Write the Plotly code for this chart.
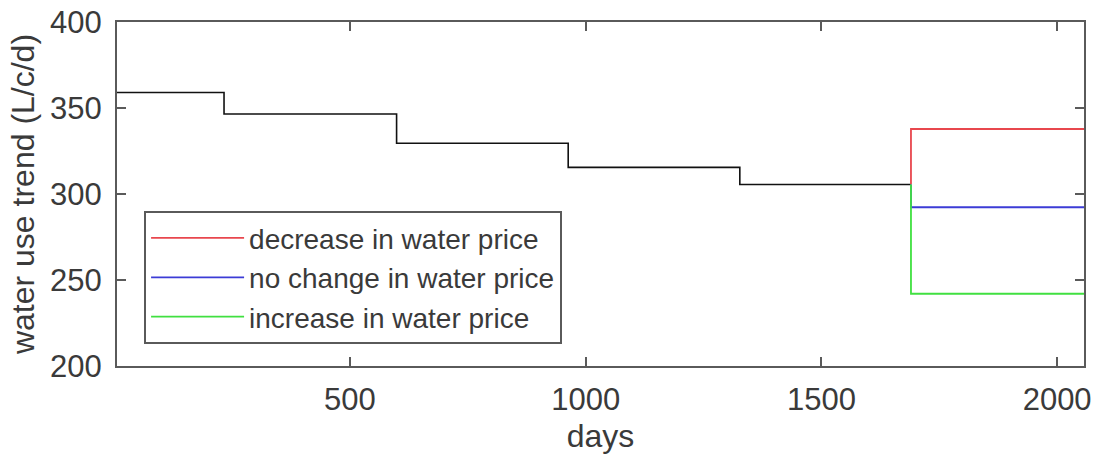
import plotly.graph_objects as go

# Data
base_days = [1, 233, 599, 963, 1327, 1690]
base_use = [359, 346.5, 329.5, 315.5, 305.5, 305.5]

scenario_days = [1690, 2057]
scenario_names = ["decrease in water price", "no change in water price", "increase in water price"]
scenario_use = [[305.5, 337.8], [305.5, 292.3], [305.5, 242.0]]
scenario_colors = ["#e8474e", "#3c3cd6", "#40e040"]

x_ticks = [500, 1000, 1500, 2000]
y_ticks = [200, 250, 300, 350, 400]

TXT = "#3a3a3a"
AX = "#5a5a5a"
FONT = "Liberation Sans, Arial, sans-serif"

fig = go.Figure()
fig.add_trace(go.Scatter(x=base_days, y=base_use, mode="lines", line=dict(color="#111111", width=1.6, shape="hv"),
                         showlegend=False))
for name, ys, col in zip(scenario_names, scenario_use, scenario_colors):
    fig.add_trace(go.Scatter(x=scenario_days, y=ys, mode="lines", name=name,
                             line=dict(color=col, width=1.8, shape="vh")))

fig.update_layout(
    width=1094, height=464,
    margin=dict(l=117, r=10, t=22, b=98),
    paper_bgcolor="white", plot_bgcolor="white",
    font=dict(family=FONT, size=31, color=TXT),
    legend=dict(x=0.028, y=0.45, xanchor="left", yanchor="top",
                bordercolor=AX, borderwidth=2, bgcolor="white",
                font=dict(size=28, color=TXT), itemwidth=93,
                tracegroupgap=0),
    xaxis=dict(range=[6, 2057], tickvals=x_ticks, ticks="inside", ticklen=9, tickwidth=2,
               tickcolor=AX, showline=True, linecolor=AX, linewidth=2, mirror="ticks",
               showgrid=False, zeroline=False, automargin=False, ticklabelstandoff=5,
               tickfont=dict(size=31, color=TXT),
               title=dict(text="days", font=dict(size=32, color=TXT), standoff=8)),
    yaxis=dict(range=[200, 400], tickvals=y_ticks, ticks="inside", ticklen=9, tickwidth=2,
               tickcolor=AX, showline=True, linecolor=AX, linewidth=2, mirror="ticks",
               showgrid=False, zeroline=False, automargin=False, ticklabelstandoff=7,
               tickfont=dict(size=31, color=TXT),
               title=dict(text="water use trend (L/c/d)", font=dict(size=32, color=TXT), standoff=6)),
)

fig.write_html("out.html")
